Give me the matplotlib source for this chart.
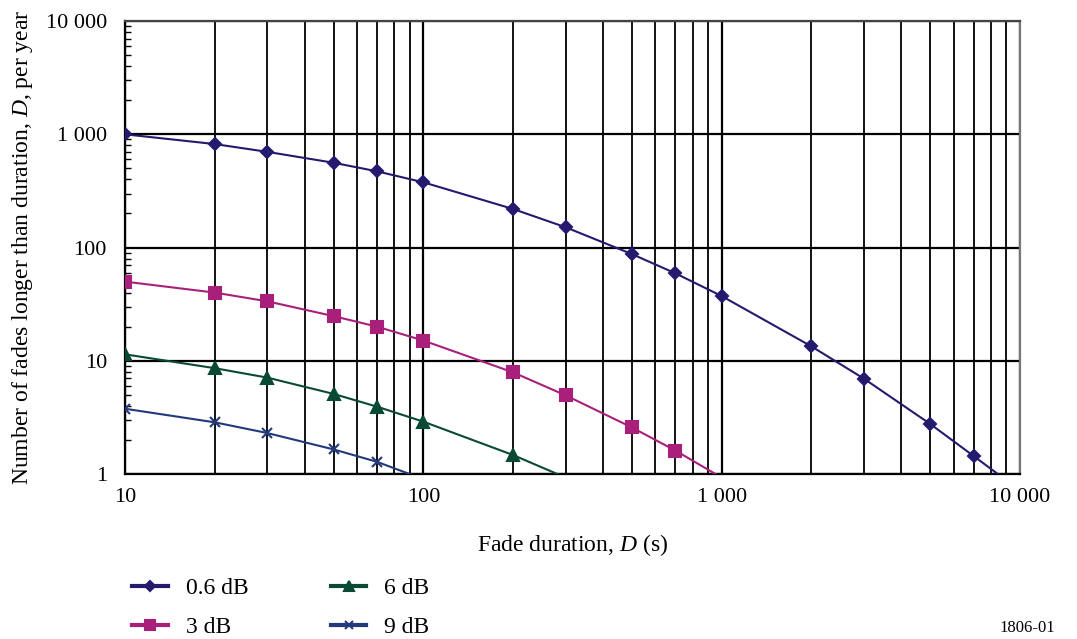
import matplotlib.pyplot as plt
from matplotlib.ticker import FixedLocator, FuncFormatter, LogLocator, NullFormatter
from matplotlib.lines import Line2D

plt.rcParams['font.family'] = ['Liberation Serif', 'DejaVu Serif']
plt.rcParams['mathtext.fontset'] = 'custom'
plt.rcParams['mathtext.it'] = 'Liberation Serif:italic'
plt.rcParams['mathtext.rm'] = 'Liberation Serif'

# fade duration (s) and number of fades per year
# last point of each series is where the line runs down through the bottom axis (no marker)
d_06 = [10, 20, 30, 50, 70, 100, 200, 300, 500, 700, 1000, 2000, 3000, 5000, 7000, 9000]
n_06 = [1000, 820, 700, 561, 471, 377, 219, 151, 87.6, 59.2, 37.3, 13.4, 6.95, 2.77, 1.44, 0.88]

d_3 = [10, 20, 30, 50, 70, 100, 200, 300, 500, 700, 1000]
n_3 = [50, 40, 33.5, 24.8, 20, 15.1, 7.9, 4.95, 2.58, 1.61, 0.93]

d_6 = [10, 20, 30, 50, 70, 100, 200, 300]
n_6 = [11.4, 8.6, 7.1, 5.1, 3.93, 2.9, 1.47, 0.93]

d_9 = [10, 20, 30, 50, 70, 100]
n_9 = [3.77, 2.86, 2.3, 1.65, 1.28, 0.9]

labels = ['0.6 dB', '3 dB', '6 dB', '9 dB']
colors = ['#241a6e', '#a8207a', '#0a4a33', '#23397a']
markers = ['D', 's', '^', 'x']
msizes = [6, 8, 8, 7]

fig = plt.figure(figsize=(10.77, 6.39), dpi=100)
ax = fig.add_axes([0.1161, 0.2582, 0.8309, 0.7088])

series = [(d_06, n_06), (d_3, n_3), (d_6, n_6), (d_9, n_9)]
for (d, n), lab, c, m, ms in zip(series, labels, colors, markers, msizes):
    ax.plot(d, n, color=c, lw=1.5, marker=m, ms=ms, mew=1.5,
            markevery=list(range(len(d) - 1)), clip_on=True, zorder=3)

ax.set_xscale('log')
ax.set_yscale('log')
ax.set_xlim(10, 10000)
ax.set_ylim(1, 10000)

def fmt(v, pos):
    return '{:,.0f}'.format(v).replace(',', ' ')

ax.xaxis.set_major_locator(FixedLocator([10, 100, 1000, 10000]))
ax.xaxis.set_minor_locator(LogLocator(base=10, subs=range(2, 10)))
ax.xaxis.set_major_formatter(FuncFormatter(fmt))
ax.xaxis.set_minor_formatter(NullFormatter())
ax.yaxis.set_major_locator(FixedLocator([1, 10, 100, 1000, 10000]))
ax.yaxis.set_minor_locator(LogLocator(base=10, subs=range(2, 10)))
ax.yaxis.set_major_formatter(FuncFormatter(fmt))
ax.yaxis.set_minor_formatter(NullFormatter())

ax.grid(True, which='major', axis='both', color='black', lw=1.6)
ax.grid(True, which='minor', axis='x', color='black', lw=1.3)

ax.tick_params(axis='x', which='both', length=0, labelsize=16, pad=10)
ax.tick_params(axis='y', which='major', length=0, labelsize=16, pad=13)
ax.tick_params(axis='y', which='minor', direction='in', length=4, width=1, left=True)

for s in ax.spines.values():
    s.set_linewidth(1.6)
    s.set_color('black')
ax.spines['right'].set_color('#777777')
ax.spines['top'].set_color('#444444')

ax.set_xlabel('Fade duration, $D$ (s)', fontsize=17, labelpad=18)
ax.set_ylabel('Number of fades longer than duration, $D$, per year', fontsize=17, labelpad=8)

handles = [Line2D([0], [0], color=c, lw=3, marker=m, ms=ms * 0.9, mew=1.5)
           for c, m, ms in zip(colors, markers, msizes)]
fig.legend(handles, labels, loc='upper left', bbox_to_anchor=(0.123, 0.096), ncol=2,
           frameon=False, fontsize=17, handlelength=1.5, handletextpad=0.75,
           columnspacing=3.5, labelspacing=0.73, borderaxespad=0, borderpad=0)

fig.text(0.98, 0.004, '1806-01', fontsize=12, ha='right', va='bottom')

fig.savefig('out.png', dpi=100)
